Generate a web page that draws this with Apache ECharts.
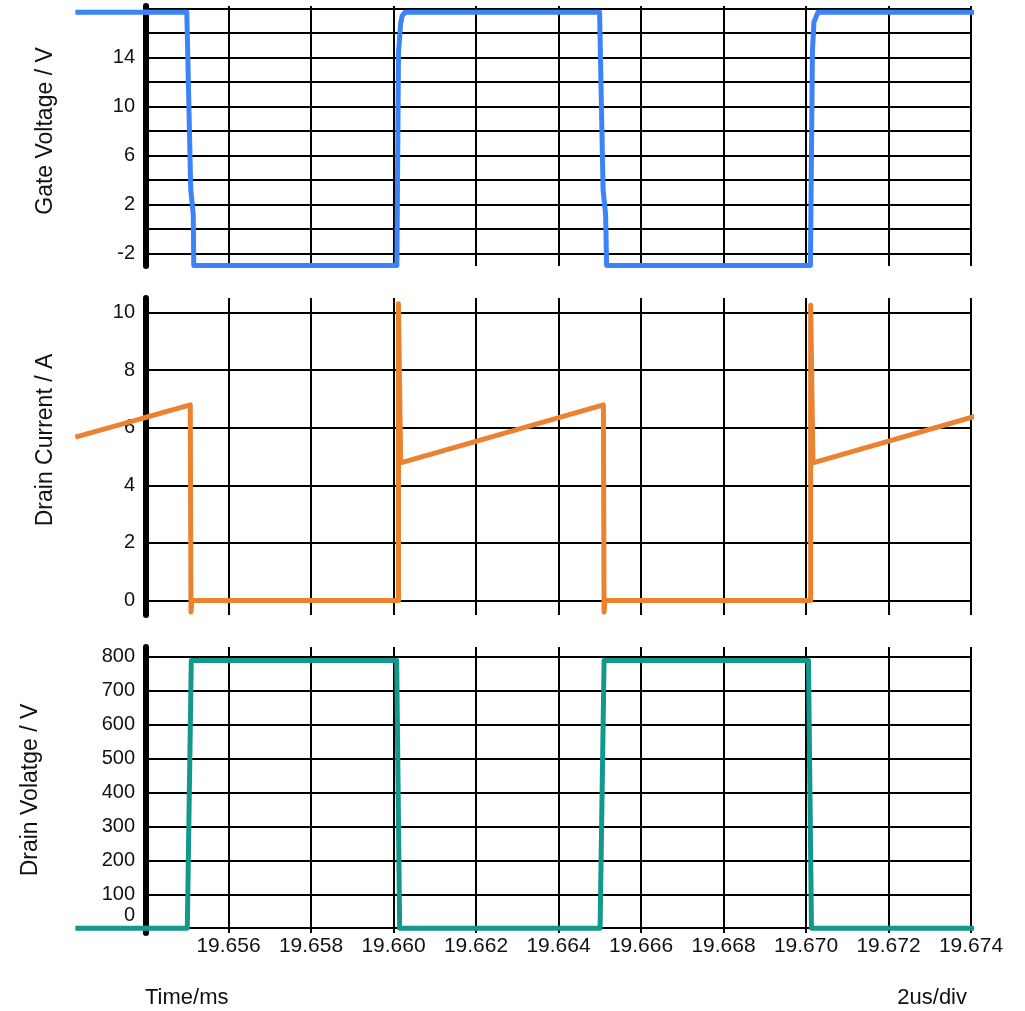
<!DOCTYPE html>
<html>
<head>
<meta charset="utf-8">
<title>Switching waveforms</title>
<script src="https://cdn.jsdelivr.net/npm/echarts@6/dist/echarts.min.js"></script>
<style>
  html, body { margin: 0; padding: 0; background: #ffffff; }
  #chart { width: 1025px; height: 1011px; }
</style>
</head>
<body>
<div id="chart"></div>
<script>
// Time axis (ms)
const timeTicks = [19.654, 19.656, 19.658, 19.660, 19.662, 19.664, 19.666, 19.668, 19.670, 19.672, 19.674];

// Gate voltage trace (time in ms, volts)
const gateTime = [19.652287, 19.654989, 19.655085, 19.655146, 19.655158, 19.660082, 19.660121, 19.660174, 19.660210, 19.660283,
                  19.664996, 19.665081, 19.665142, 19.665166, 19.670108, 19.670132, 19.670156, 19.670193, 19.670290, 19.674136];
const gateVolts = [17.7, 17.7, 3.2, 1.2, -2.95, -2.95, 14.4, 16.8, 17.4, 17.7,
                   17.7, 3.2, 1.2, -2.95, -2.95, 6.0, 14.5, 16.9, 17.7, 17.7];

// Drain current trace (time in ms, amps)
const currentTime = [19.652287, 19.655073, 19.655090, 19.655110, 19.660121, 19.660121, 19.660174, 19.665088, 19.665105, 19.665125,
                     19.670113, 19.670113, 19.670169, 19.674118];
const currentAmps = [5.67, 6.79, -0.4, 0, 0, 10.3, 4.78, 6.79, -0.4, 0,
                     0, 10.25, 4.78, 6.40];

// Drain voltage trace (time in ms, volts)
const drainTime = [19.652287, 19.655001, 19.655098, 19.660077, 19.660150, 19.665008, 19.665105, 19.670060, 19.670133, 19.674136];
const drainVolts = [0, 0, 788, 788, 0, 0, 788, 788, 0, 0];

// Tick labels shown on each value axis
const gateLabels = [-2, 2, 6, 10, 14];
const currentLabels = [0, 2, 4, 6, 8, 10];
const drainLabels = [0, 100, 200, 300, 400, 500, 600, 700, 800];

const pair = (xs, ys) => xs.map((x, i) => [x, ys[i]]);

const FONT = '"Liberation Sans", Arial, Helvetica, sans-serif';
const BLUE = '#3b83f6';
const ORANGE = '#ea8230';
const TEAL = '#13988c';

// Panel geometry: the framed plot area, plus a lead-in strip to its left
// where the traces start before the first time tick.
const PLOT_LEFT = 146, PLOT_RIGHT = 54, LEAD_LEFT = 75;
const PLOT_WIDTH = 1025 - PLOT_LEFT - PLOT_RIGHT;
const panels = [
  { top: 6, height: 260 },
  { top: 298, height: 317 },
  { top: 647, height: 286 }
];
const tMin = timeTicks[0], tMax = timeTicks[timeTicks.length - 1];
const leadMin = tMin - (tMax - tMin) * (PLOT_LEFT - LEAD_LEFT) / PLOT_WIDTH;

const yRanges = [
  { min: -3.0, max: 18.2, step: 2 },
  { min: -0.5, max: 10.5, step: 2 },
  { min: -14, max: 828, step: 100 }
];

const grids = panels.map(p => ({ left: PLOT_LEFT, right: PLOT_RIGHT, top: p.top, height: p.height }))
  .concat(panels.map(p => ({ left: LEAD_LEFT, width: PLOT_LEFT - LEAD_LEFT, top: p.top, height: p.height })));

function makeXAxis(idx, showLabels) {
  return {
    type: 'value',
    gridIndex: idx,
    min: tMin,
    max: tMax,
    interval: 0.002,
    axisLine: { show: false, onZero: false },
    axisTick: { show: false },
    axisLabel: {
      show: showLabels,
      showMinLabel: false,
      margin: 3,
      fontFamily: FONT,
      fontSize: 21,
      color: '#111',
      formatter: v => v.toFixed(3)
    },
    splitLine: { show: true, lineStyle: { color: '#000', width: 2 } }
  };
}

function makeLeadXAxis(idx) {
  return {
    type: 'value', gridIndex: idx, min: leadMin, max: tMin,
    axisLine: { show: false }, axisTick: { show: false }, axisLabel: { show: false }, splitLine: { show: false }
  };
}

function makeYAxis(idx, range, labels, formatter) {
  return {
    type: 'value',
    gridIndex: idx,
    min: range.min,
    max: range.max,
    minInterval: range.step,
    maxInterval: range.step,
    axisLine: { show: true, onZero: false, lineStyle: { color: '#000', width: 6 } },
    axisTick: { show: false },
    axisLabel: {
      margin: 11,
      showMinLabel: false,
      showMaxLabel: false,
      fontFamily: FONT,
      fontSize: 20,
      color: '#111',
      formatter: formatter || (v => labels.some(l => Math.abs(l - v) < 1e-6) ? String(Math.round(v)) : ''),
      rich: { zero: { padding: [0, 0, 26, 0], fontFamily: FONT, fontSize: 20, color: '#111' } }
    },
    splitLine: { show: true, showMinLine: false, showMaxLine: false, lineStyle: { color: '#000', width: 2 } }
  };
}

function makeLeadYAxis(idx, range) {
  return {
    type: 'value', gridIndex: idx, min: range.min, max: range.max,
    axisLine: { show: false }, axisTick: { show: false }, axisLabel: { show: false }, splitLine: { show: false }
  };
}

const traces = [
  { name: 'Gate Voltage', data: pair(gateTime, gateVolts), color: BLUE },
  { name: 'Drain Current', data: pair(currentTime, currentAmps), color: ORANGE },
  { name: 'Drain Voltage', data: pair(drainTime, drainVolts), color: TEAL }
];

const series = [];
traces.forEach((t, i) => {
  [i, i + 3].forEach(axisIdx => {
    series.push({
      type: 'line', name: t.name, xAxisIndex: axisIdx, yAxisIndex: axisIdx, data: t.data,
      showSymbol: false, silent: true,
      lineStyle: { color: t.color, width: 5, join: 'round' }
    });
  });
});

const titleStyle = (text, size) => ({ text: text, font: size + 'px ' + FONT, fill: '#111', textAlign: 'center', textVerticalAlign: 'middle' });

const option = {
  animation: false,
  backgroundColor: '#ffffff',
  grid: grids,
  xAxis: [makeXAxis(0, false), makeXAxis(1, false), makeXAxis(2, true),
          makeLeadXAxis(3), makeLeadXAxis(4), makeLeadXAxis(5)],
  yAxis: [
    makeYAxis(0, yRanges[0], gateLabels),
    makeYAxis(1, yRanges[1], currentLabels),
    makeYAxis(2, yRanges[2], drainLabels, v => {
      if (Math.abs(v) < 1e-6) return '{zero|0}';
      return drainLabels.some(l => Math.abs(l - v) < 1e-6) ? String(Math.round(v)) : '';
    }),
    makeLeadYAxis(3, yRanges[0]),
    makeLeadYAxis(4, yRanges[1]),
    makeLeadYAxis(5, yRanges[2])
  ],
  graphic: [
    { type: 'text', x: 46, y: 131, rotation: Math.PI / 2, style: titleStyle('Gate Voltage / V', 23) },
    { type: 'text', x: 46, y: 440, rotation: Math.PI / 2, style: titleStyle('Drain Current / A', 23) },
    { type: 'text', x: 31, y: 790, rotation: Math.PI / 2, style: titleStyle('Drain Volatge / V', 23) },
    { type: 'text', x: 145, y: 998,
      style: { text: 'Time/ms', font: '22px ' + FONT, fill: '#111', textAlign: 'left', textVerticalAlign: 'middle' } },
    { type: 'text', x: 967, y: 998,
      style: { text: '2us/div', font: '22px ' + FONT, fill: '#111', textAlign: 'right', textVerticalAlign: 'middle' } }
  ],
  series: series
};

const chart = echarts.init(document.getElementById('chart'), null, { renderer: 'canvas' });
chart.setOption(option);
</script>
</body>
</html>
